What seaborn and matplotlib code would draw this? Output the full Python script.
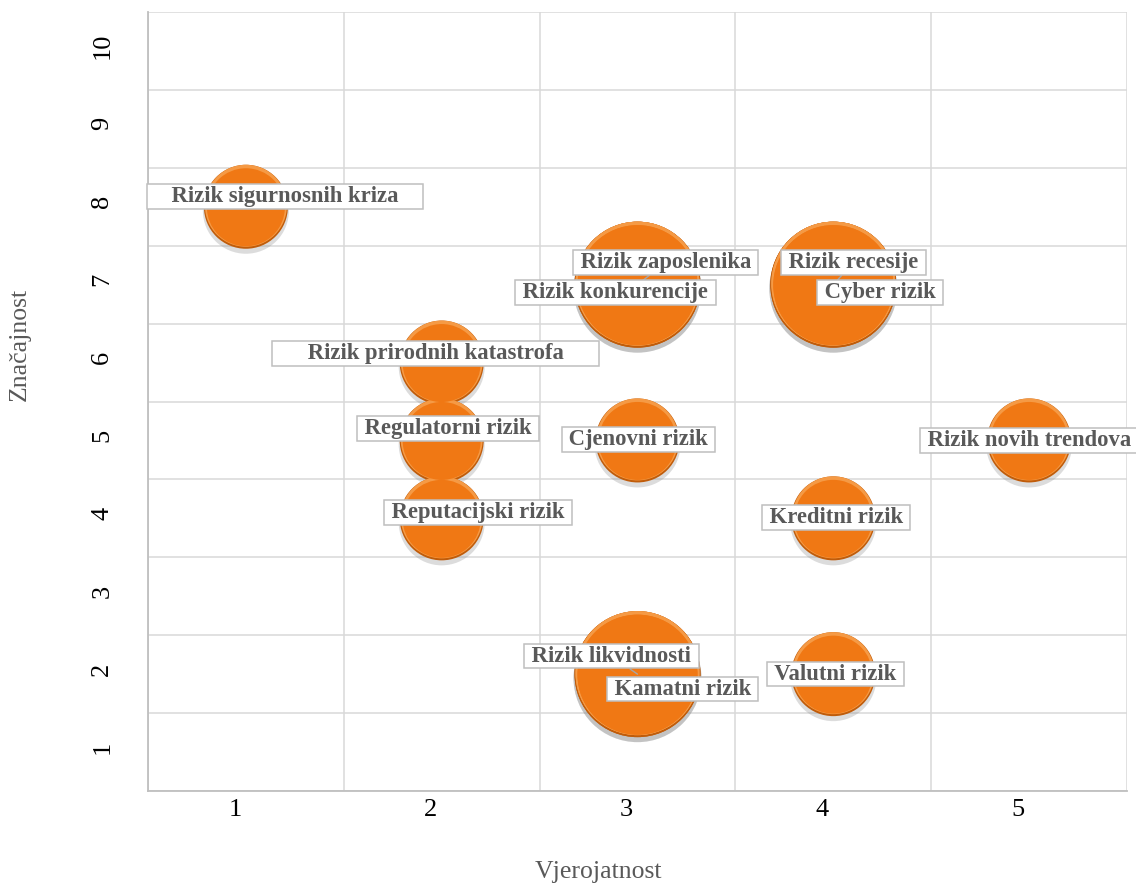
import numpy as np
import pandas as pd
import seaborn as sns
import matplotlib
matplotlib.use('Agg')
import matplotlib.pyplot as plt
from matplotlib.transforms import ScaledTranslation

# Data
rizici = ['Rizik sigurnosnih kriza', 'Rizik zaposlenika', 'Rizik konkurencije',
          'Rizik recesije', 'Cyber rizik', 'Rizik prirodnih katastrofa',
          'Regulatorni rizik', 'Cjenovni rizik', 'Rizik novih trendova',
          'Reputacijski rizik', 'Kreditni rizik', 'Rizik likvidnosti',
          'Kamatni rizik', 'Valutni rizik']
vjerojatnost = [1, 3, 3, 4, 4, 2, 2, 3, 5, 2, 4, 3, 3, 4]
znacajnost = [8, 7, 7, 7, 7, 6, 5, 5, 5, 4, 4, 2, 2, 2]
velicina = [1, 2, 2, 2, 2, 1, 1, 1, 1, 1, 1, 2, 2, 1]
x_ticks = [1, 2, 3, 4, 5]
y_ticks = [1, 2, 3, 4, 5, 6, 7, 8, 9, 10]

df = pd.DataFrame({'rizik': rizici, 'vjerojatnost': vjerojatnost,
                   'znacajnost': znacajnost, 'velicina': velicina})

# label offsets from bubble centre in pixels (dx right, dy down) and extra side padding
label_offsets = {
    'Rizik sigurnosnih kriza': (39, -10, 4),
    'Rizik zaposlenika': (28, -22, 1),
    'Rizik konkurencije': (-22, 8, 1),
    'Rizik recesije': (20, -22, 1),
    'Cyber rizik': (47, 8, 1),
    'Rizik prirodnih katastrofa': (-6, -9, 6),
    'Regulatorni rizik': (6, -12, 1),
    'Cjenovni rizik': (1, -1, 1),
    'Rizik novih trendova': (0, 0, 1),
    'Reputacijski rizik': (36, -6, 1),
    'Kreditni rizik': (3, -1, 1),
    'Rizik likvidnosti': (-26, -18, 1),
    'Kamatni rizik': (45, 15, 1),
    'Valutni rizik': (2, 0, 1),
}
leaders = ['Rizik zaposlenika', 'Rizik recesije', 'Rizik likvidnosti']

sns.set_style('white')
plt.rcParams['font.family'] = ['Liberation Serif', 'DejaVu Serif']

fig = plt.figure(figsize=(11.36, 8.84), dpi=100)
ax = fig.add_axes([148 / 1136, 1 - 791 / 884, 979 / 1136, 779 / 884])


def area(r_px):
    return (2 * r_px * 0.72) ** 2


def shifted(dx_px, dy_px):
    return ax.transData + ScaledTranslation(dx_px / 100, dy_px / 100, fig.dpi_scale_trans)


r_small, r_large = 42, 63
layers = [
    # (radius shrink, dx, dy, colour, alpha)
    (-1, 0, -4, '#8c8c8c', 0.3),
    (0, 0, 0, '#c05c0a', 1.0),
    (1, 0, 1, '#f59a45', 1.0),
    (3, 0, -0.5, '#f07814', 1.0),
]
for shrink, dx, dy, col, alpha in layers:
    sns.scatterplot(data=df, x='vjerojatnost', y='znacajnost', size='velicina',
                    sizes=(area(r_small - shrink), area(r_large - shrink)),
                    color=col, alpha=alpha, linewidth=0, legend=False, ax=ax,
                    transform=shifted(dx, dy), zorder=3)

for i, row in df.iterrows():
    dx, dy, padn = label_offsets[row['rizik']]
    txt = ' ' * padn + row['rizik'] + ' ' * padn
    arrow = None
    if row['rizik'] in leaders:
        arrow = dict(arrowstyle='-', color='#a6a6a6', lw=1, shrinkA=0, shrinkB=0)
    ax.annotate(txt, xy=(row['vjerojatnost'], row['znacajnost']),
                xytext=(dx * 0.72, -dy * 0.72), textcoords='offset points',
                ha='center', va='center', fontsize=16.3, fontweight='bold',
                color='#595959', zorder=5, annotation_clip=False,
                bbox=dict(boxstyle='square,pad=0.08', fc='white', ec='#bfbfbf', lw=1.1),
                arrowprops=arrow)

ax.set_xlim(0.5, 5.5)
ax.set_ylim(0.5, 10.5)
ax.set_xticks(x_ticks)
ax.set_xticklabels([str(v) for v in x_ticks])
ax.set_yticks(y_ticks)
ax.set_yticklabels([str(v) for v in y_ticks], rotation=90, va='center')
ax.set_xticks(np.arange(0.5, 6, 1), minor=True)
ax.set_yticks(np.arange(0.5, 11, 1), minor=True)
ax.grid(which='minor', color='#d9d9d9', lw=1.1, zorder=0)
ax.grid(which='major', visible=False)
ax.set_axisbelow(True)
ax.tick_params(which='both', length=0)
ax.tick_params(axis='x', labelsize=19, pad=6, colors='black')
ax.tick_params(axis='y', labelsize=19, pad=25, colors='black')
for lab in ax.get_xticklabels():
    lab.set_transform(lab.get_transform() + ScaledTranslation(-11 / 100, 0, fig.dpi_scale_trans))
for lab in ax.get_yticklabels():
    lab.set_transform(lab.get_transform() + ScaledTranslation(0, 5 / 100, fig.dpi_scale_trans))

for side in ['top', 'right']:
    ax.spines[side].set_visible(False)
for side in ['left', 'bottom']:
    ax.spines[side].set_color('#bfbfbf')
    ax.spines[side].set_linewidth(1.3)

ax.set_xlabel('Vjerojatnost', fontsize=18.5, color='#595959', va='center')
ax.set_ylabel('Značajnost', fontsize=18.5, color='#595959', va='center')
ax.xaxis.set_label_coords((598 - 148) / 979, -(872 - 791) / 779)
ax.yaxis.set_label_coords((20 - 148) / 979, (791 - 344) / 779)

fig.savefig('out.png', dpi=100)
